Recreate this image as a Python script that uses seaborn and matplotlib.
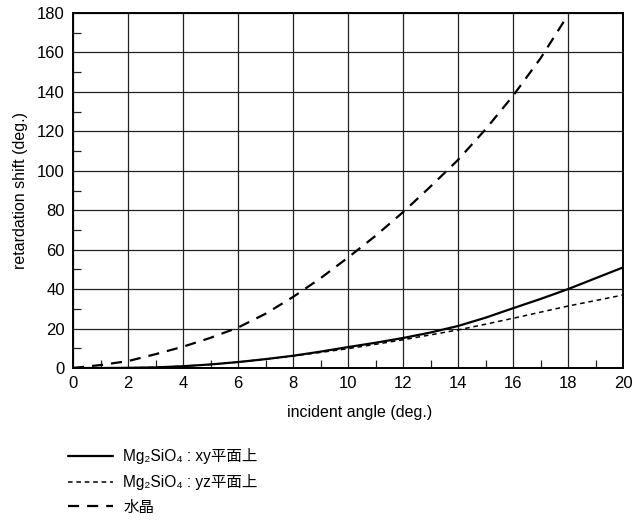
import matplotlib
matplotlib.use("Agg")
import matplotlib.pyplot as plt
import seaborn as sns
import pandas as pd
from matplotlib.ticker import MultipleLocator

sns.set_theme(style="white")
plt.rcParams["font.family"] = ["Liberation Sans", "Noto Sans CJK JP", "DejaVu Sans"]

# incident angle (deg.) and retardation shift (deg.)
angles = [0, 1, 2, 3, 4, 5, 6, 7, 8, 9, 10, 11, 12, 13, 14, 15, 16, 17, 18, 19, 20]
mg_xy = [0, 0, 0.1, 0.3, 0.9, 1.8, 3.0, 4.5, 6.2, 8.3, 10.6, 12.8, 15.2, 18.0, 21.3, 25.5, 30.3, 35.0, 40.0, 45.5, 51.0]
mg_yz = [0, 0, 0.1, 0.3, 0.9, 1.8, 3.0, 4.5, 6.1, 7.9, 9.8, 12.0, 14.3, 16.8, 19.3, 22.2, 25.2, 28.3, 31.4, 34.2, 37.0]
angles_quartz = [0, 1, 2, 3, 4, 5, 6, 7, 8, 9, 10, 11, 12, 13, 14, 15, 16, 17, 18]
quartz = [0, 1.5, 3.5, 7.0, 10.8, 15.3, 20.5, 27.5, 36, 45.5, 56, 67, 79, 92, 105.5, 121, 138, 157, 179]

labels = ["Mg\u2082SiO\u2084 : xy平面上", "Mg\u2082SiO\u2084 : yz平面上", "水晶"]

df_xy = pd.DataFrame({"angle": angles, "shift": mg_xy})
df_yz = pd.DataFrame({"angle": angles, "shift": mg_yz})
df_q = pd.DataFrame({"angle": angles_quartz, "shift": quartz})

fig = plt.figure(figsize=(6.36, 5.26), dpi=100)
ax = fig.add_axes([73 / 636, 1 - 368 / 526, 550 / 636, 355 / 526])

sns.lineplot(data=df_xy, x="angle", y="shift", ax=ax, color="black", lw=1.6,
             label=labels[0])
sns.lineplot(data=df_yz, x="angle", y="shift", ax=ax, color="black", lw=1.1,
             label=labels[1])
ax.lines[-1].set_dashes([3.0, 2.5])
sns.lineplot(data=df_q, x="angle", y="shift", ax=ax, color="black", lw=1.6,
             label=labels[2])
ax.lines[-1].set_dashes([5.0, 3.6])

ax.set_xlim(0, 20)
ax.set_ylim(0, 180)
ax.xaxis.set_major_locator(MultipleLocator(2))
ax.yaxis.set_major_locator(MultipleLocator(20))
ax.xaxis.set_minor_locator(MultipleLocator(1))
ax.yaxis.set_minor_locator(MultipleLocator(10))
ax.grid(True, which="major", color="#222222", lw=0.9)
ax.tick_params(which="major", length=0, labelsize=12, colors="black", pad=6)
ax.tick_params(which="minor", direction="in", length=6, width=0.9, color="#222222",
               bottom=True, left=True)
for s in ax.spines.values():
    s.set_color("black")
    s.set_linewidth(1.4)

ax.set_xlabel("incident angle (deg.)", fontsize=11.5, color="black")
ax.set_ylabel("retardation shift (deg.)", fontsize=11.5, color="black")
ax.xaxis.set_label_coords(0.522, -0.104)
ax.yaxis.set_label_coords(-0.082, 0.5)

leg = ax.legend(loc="upper left", bbox_to_anchor=(62 / 636, 1 - 442 / 526),
                bbox_transform=fig.transFigure, frameon=False, fontsize=11.2,
                handlelength=2.9, handletextpad=0.65, labelspacing=0.63,
                borderaxespad=0)
for t in leg.get_texts():
    t.set_color("black")

fig.savefig("out.png", dpi=100)
